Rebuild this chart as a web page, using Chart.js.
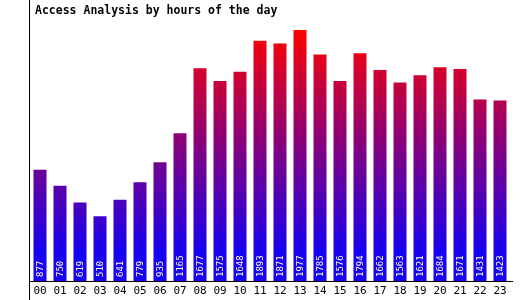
<!DOCTYPE html>
<html>
<head>
<meta charset="utf-8">
<script src="https://cdn.jsdelivr.net/npm/chart.js@4/dist/chart.umd.min.js"></script>
<style>
  html, body { margin: 0; padding: 0; background: #fff; }
  #wrap { width: 520px; height: 300px; }
</style>
</head>
<body>
<div id="wrap"><canvas id="hoursChart" width="520" height="300"></canvas></div>
<script>
const titleText = 'Access Analysis by hours of the day';
const hours = ['00','01','02','03','04','05','06','07','08','09','10','11',
               '12','13','14','15','16','17','18','19','20','21','22','23'];
const hits = [877, 750, 619, 510, 641, 779, 935, 1165, 1677, 1575, 1648, 1893,
              1871, 1977, 1785, 1576, 1794, 1662, 1563, 1621, 1684, 1671, 1431, 1423];

const mono = '"DejaVu Sans Mono", "Liberation Mono", monospace';

const makeGradient = (ctx) => {
    const g = ctx.createLinearGradient(0, 30, 0, 250);
    g.addColorStop(0, '#ff0000');
    g.addColorStop(1, '#1800f0');
    return g;
};

// title, y axis line and the rotated value labels
const extras = {
    id: 'extras',
    afterDatasetsDraw(chart) {
        const ctx = chart.ctx;
        const area = chart.chartArea;
        ctx.save();
        ctx.strokeStyle = '#000';
        ctx.lineWidth = 1;
        ctx.beginPath();
        ctx.moveTo(area.left - 0.5, 0);
        ctx.lineTo(area.left - 0.5, 300);
        ctx.moveTo(area.right, area.bottom + 0.5);
        ctx.lineTo(area.right + 3, area.bottom + 0.5);
        ctx.stroke();

        ctx.fillStyle = '#000';
        ctx.font = 'bold 11.5px ' + mono;
        ctx.textAlign = 'left';
        ctx.textBaseline = 'middle';
        ctx.fillText(titleText, 35, 11);

        const meta = chart.getDatasetMeta(0);
        ctx.fillStyle = '#fff';
        ctx.font = '9px ' + mono;
        meta.data.forEach((bar, i) => {
            ctx.save();
            ctx.translate(bar.x, bar.base - 4);
            ctx.rotate(-Math.PI / 2);
            ctx.textAlign = 'left';
            ctx.textBaseline = 'middle';
            ctx.fillText(String(hits[i]), 0, 0.5);
            ctx.restore();
        });
        ctx.restore();
    }
};

new Chart(document.getElementById('hoursChart'), {
    type: 'bar',
    data: {
        labels: hours,
        datasets: [{
            data: hits,
            backgroundColor: (c) => makeGradient(c.chart.ctx),
            borderWidth: 0,
            barPercentage: 0.65,
            categoryPercentage: 1.0
        }]
    },
    options: {
        responsive: false,
        animation: false,
        events: [],
        layout: { padding: { left: 30, right: 10, top: 0, bottom: 0 } },
        plugins: {
            legend: { display: false },
            title: { display: false },
            tooltip: { enabled: false }
        },
        scales: {
            x: {
                grid: { display: false, drawTicks: false },
                border: { display: true, color: '#000', width: 1 },
                ticks: {
                    color: '#000',
                    font: { family: mono, size: 11 },
                    padding: 4,
                    maxRotation: 0,
                    autoSkip: false
                },
                afterFit: (scale) => { scale.height = 19; }
            },
            y: {
                display: false,
                min: 0,
                max: 2214
            }
        }
    },
    plugins: [extras]
});
</script>
</body>
</html>
